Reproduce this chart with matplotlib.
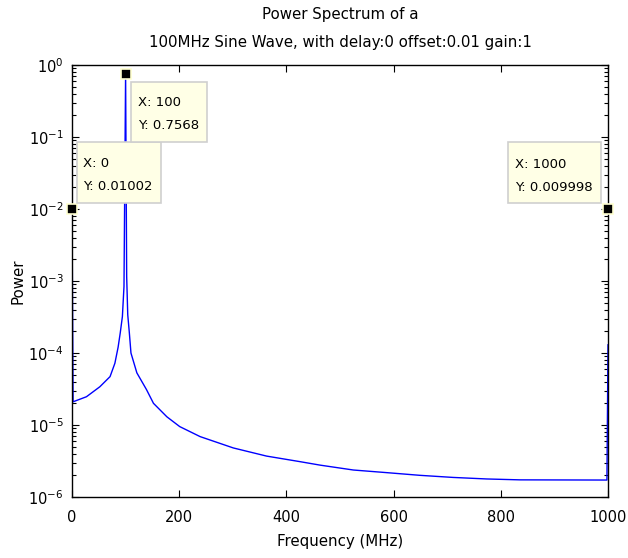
import matplotlib
matplotlib.use("Agg")
import matplotlib.pyplot as plt
from matplotlib.ticker import LogLocator, FixedLocator, NullFormatter
from matplotlib.transforms import IdentityTransform, ScaledTranslation
from matplotlib.patches import Rectangle

plt.rcParams['font.family'] = ['DejaVu Sans']

# Spectrum samples (frequency in MHz, power)
freq = [0, 2, 27, 52, 71, 80, 86, 90, 94, 97, 100,
        102, 104, 107, 110, 121, 139, 152, 177, 201, 239, 301,
        363, 425, 463, 525, 587, 649, 711, 774, 836, 998, 1000]
power = [0.01002, 2.1e-5, 2.47e-5, 3.4e-5, 4.7e-5, 7.2e-5, 1.2e-4, 1.9e-4, 3.2e-4, 8.4e-4, 0.7568,
         1.15e-3, 3.4e-4, 1.9e-4, 1.0e-4, 5.3e-5, 3.1e-5, 2.0e-5, 1.3e-5, 9.5e-6, 6.9e-6, 4.8e-6,
         3.7e-6, 3.1e-6, 2.77e-6, 2.37e-6, 2.18e-6, 2.0e-6, 1.87e-6, 1.78e-6, 1.73e-6, 1.72e-6, 1.3e-4]

# Data tips
tip_x = [0, 100, 1000]
tip_y = [0.01002, 0.7568, 0.009998]
tip_line1 = ["X: 0", "X: 100", "X: 1000"]
tip_line2 = ["Y: 0.01002", "Y: 0.7568", "Y: 0.009998"]

title_lines = ["Power Spectrum of a", "100MHz Sine Wave, with delay:0 offset:0.01 gain:1"]
xticks = [0, 200, 400, 600, 800, 1000]

# tip box layout in pixels relative to the marker (x right, y up):
# (box_left, box_right, box_bottom, box_top, text_x, line1_y, line2_y)
tip_layout = [(5, 89, 6, 67, 11, 45, 22),
              (5, 81, -68, -8, 12, -29, -52),
              (-100, -7, 6, 67, -93, 45, 22)]

FS = 10.8
fig = plt.figure(figsize=(6.28, 5.58), dpi=100)
ax = fig.add_axes([72/628, 1-497/558, 536/628, 432/558])
ax.plot(freq, power, color=(0, 0, 1), lw=1.0, zorder=2)
ax.set_yscale('log')
ax.set_xlim(0, 1000)
ax.set_ylim(1e-6, 1e0)
ax.xaxis.set_major_locator(FixedLocator(xticks))
ax.yaxis.set_major_locator(LogLocator(base=10, numticks=10))
ax.yaxis.set_minor_locator(LogLocator(base=10, subs=range(2, 10), numticks=20))
ax.yaxis.set_minor_formatter(NullFormatter())
ax.tick_params(which='both', direction='in', top=True, right=True, labelsize=10.5, colors='black')
ax.tick_params(which='major', length=5, width=0.8)
ax.tick_params(which='minor', length=3, width=0.8)
ax.tick_params(axis='x', pad=9)
ax.tick_params(axis='y', pad=6)
ax.xaxis.get_offset_text().set_visible(False)
ax.yaxis.get_offset_text().set_visible(False)
for s in ax.spines.values():
    s.set_linewidth(1.0)

# markers
ax.plot(tip_x, tip_y, linestyle='none', marker='s', markersize=7.5,
        markerfacecolor='black', markeredgecolor='#ffffd0', markeredgewidth=1.2,
        clip_on=False, zorder=5)

for x, y, l1, l2, lay in zip(tip_x, tip_y, tip_line1, tip_line2, tip_layout):
    bl, br, bb, bt, tx, y1, y2 = lay
    trans = IdentityTransform() + ScaledTranslation(x, y, ax.transData)
    rect = Rectangle((bl, bb), br - bl, bt - bb, transform=trans,
                     facecolor='#ffffe6', edgecolor='#cfcfcf', lw=1.2,
                     zorder=6, clip_on=False)
    fig.add_artist(rect)
    fig.text(tx, y1, l1, transform=trans, ha='left', va='center', fontsize=9.5, zorder=7)
    fig.text(tx, y2, l2, transform=trans, ha='left', va='center', fontsize=9.5, zorder=7)

fig.text(340/628, 1-14/558, title_lines[0], ha='center', va='center', fontsize=FS)
fig.text(340/628, 1-43/558, title_lines[1], ha='center', va='center', fontsize=FS)
ax.set_xlabel("Frequency (MHz)", fontsize=FS, labelpad=7)
ax.set_ylabel("Power", fontsize=FS, labelpad=2)

fig.savefig("out.png", dpi=100, facecolor='white')
